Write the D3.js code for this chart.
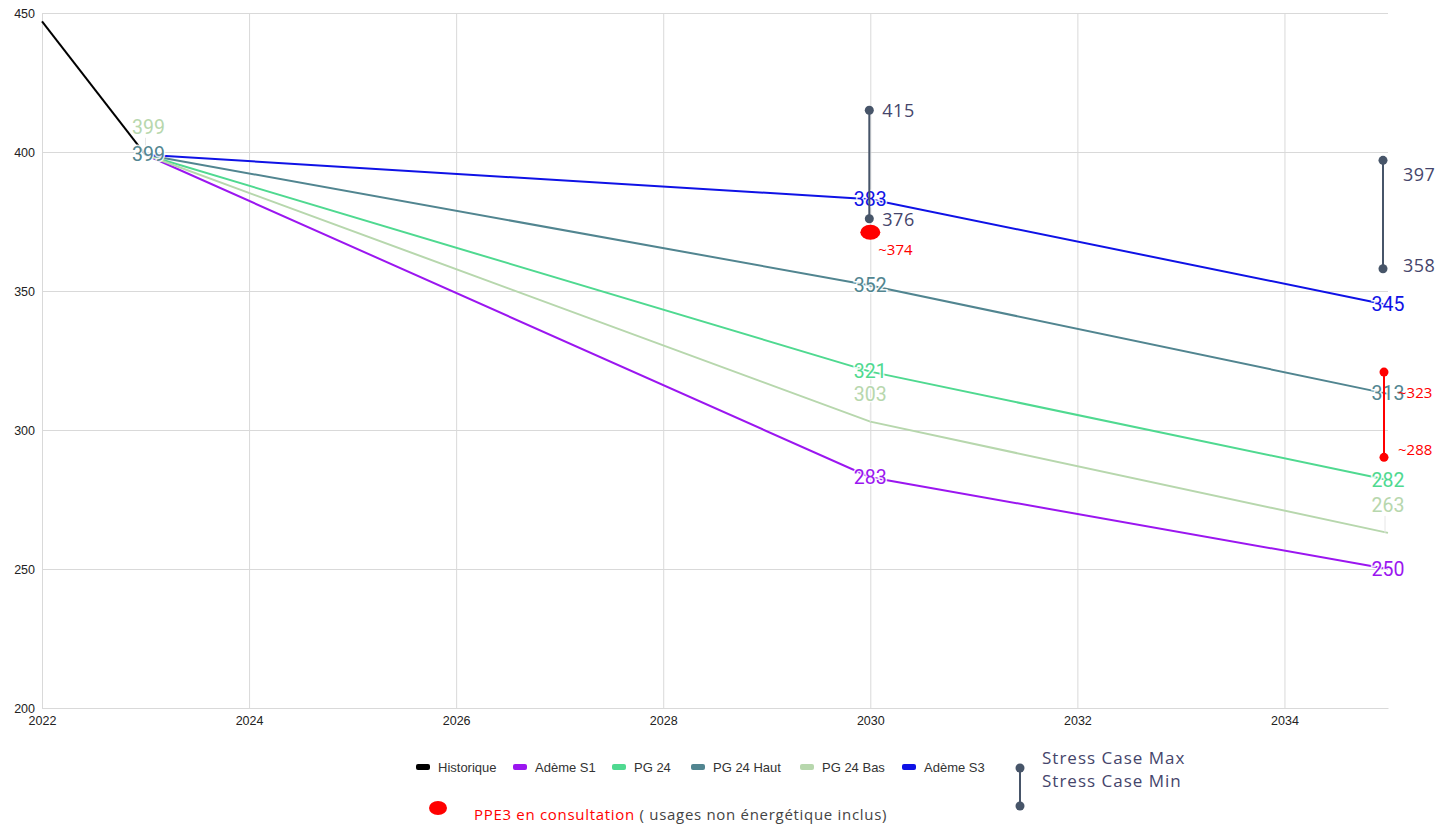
<!DOCTYPE html>
<html>
<head>
<meta charset="utf-8">
<script src="https://cdn.jsdelivr.net/npm/d3@7"></script>
<style>
  body { margin: 0; background: #fff; }
  svg { display: block; }
</style>
</head>
<body>
<div id="wrapper"></div>
<script>
// ---------------------------------------------------
// DATA
// ---------------------------------------------------
const years = [2022, 2023, 2030, 2035]
const seriesNames = ['Historique', 'Adème S1', 'PG 24', 'PG 24 Haut', 'PG 24 Bas', 'Adème S3']
const seriesColors = ['#000000', '#9b16f0', '#4fd990', '#518590', '#b7d7ad', '#0f12e6']
// null = no value for that year
const historique = [447, 399, null, null]
const ademeS1 = [null, 399, 283, 250]
const pg24 = [null, 399, 321, 282]
const pg24Haut = [null, 399, 352, 313]
const pg24Bas = [null, 399, 303, 263]
const ademeS3 = [null, 399, 383, 345]
const seriesValues = [historique, ademeS1, pg24, pg24Haut, pg24Bas, ademeS3]
// which years get a data label, per series
const labelYears = [[], [2030, 2035], [2030, 2035], [2023, 2030, 2035], [2023, 2030, 2035], [2030, 2035]]

const stressYears = [2030, 2035]
const stressMax = [415, 397]
const stressMin = [376, 358]

const ppeYears = [2030]
const ppeValues = [374]
const ppeRangeYears = [2035]
const ppeRangeMax = [323]
const ppeRangeMin = [288]

const xTicks = [2022, 2024, 2026, 2028, 2030, 2032, 2034]
const yTicks = [200, 250, 300, 350, 400, 450]

// ---------------------------------------------------
// DIMENSIONS
// ---------------------------------------------------
const dimensions = {
  width: 1435,
  height: 825,
  margin: { top: 13, right: 47, bottom: 117, left: 42 },
}
dimensions.boundedWidth = dimensions.width - dimensions.margin.left - dimensions.margin.right
dimensions.boundedHeight = dimensions.height - dimensions.margin.top - dimensions.margin.bottom

const svg = d3
  .select('#wrapper')
  .append('svg')
  .attr('width', dimensions.width)
  .attr('height', dimensions.height)

const bounds = svg
  .append('g')
  .attr('transform', `translate(${dimensions.margin.left},${dimensions.margin.top})`)

// ---------------------------------------------------
// SCALES
// ---------------------------------------------------
const xScale = d3.scaleLinear().domain([2022, 2035]).range([0, dimensions.boundedWidth])
const yScale = d3.scaleLinear().domain([200, 450]).range([dimensions.boundedHeight, 0])

// ---------------------------------------------------
// GRID + AXES
// ---------------------------------------------------
bounds
  .append('g')
  .attr('class', 'grid-y')
  .call(d3.axisLeft(yScale).tickValues(yTicks).tickSize(-dimensions.boundedWidth).tickFormat(''))
  .call((g) => g.select('.domain').remove())
  .selectAll('line')
  .attr('stroke', '#d9d9d9')

bounds
  .append('g')
  .attr('class', 'grid-x')
  .attr('transform', `translate(0,${dimensions.boundedHeight})`)
  .call(d3.axisBottom(xScale).tickValues(xTicks).tickSize(-dimensions.boundedHeight).tickFormat(''))
  .call((g) => g.select('.domain').remove())
  .selectAll('line')
  .attr('stroke', '#d9d9d9')

const yAxis = bounds
  .append('g')
  .call(d3.axisLeft(yScale).tickValues(yTicks).tickSize(0).tickPadding(7))
yAxis.select('.domain').attr('stroke', '#d9d9d9')
yAxis.selectAll('text').attr('font-family', 'Liberation Sans, Arial').attr('font-size', 12.5).attr('fill', '#222')

const xAxis = bounds
  .append('g')
  .attr('transform', `translate(0,${dimensions.boundedHeight})`)
  .call(d3.axisBottom(xScale).tickValues(xTicks).tickFormat(d3.format('d')).tickSize(0).tickPadding(8))
xAxis.select('.domain').attr('stroke', '#d9d9d9')
xAxis.selectAll('text').attr('font-family', 'Liberation Sans, Arial').attr('font-size', 12.5).attr('fill', '#222')

// ---------------------------------------------------
// LINES
// ---------------------------------------------------
const lineGenerator = d3
  .line()
  .defined((d) => d.value != null)
  .x((d) => xScale(d.year))
  .y((d) => yScale(d.value))

const seriesData = seriesNames.map((name, i) => ({
  name,
  color: seriesColors[i],
  points: years.map((year, j) => ({ year, value: seriesValues[i][j] })),
}))

bounds
  .append('g')
  .attr('class', 'lines')
  .selectAll('path')
  .data(seriesData)
  .join('path')
  .attr('fill', 'none')
  .attr('stroke', (d) => d.color)
  .attr('stroke-width', 2)
  .attr('d', (d) => lineGenerator(d.points))

// ---------------------------------------------------
// DATA LABELS
// ---------------------------------------------------
const labelData = []
seriesData.forEach((s, i) => {
  s.points.forEach((p) => {
    if (p.value != null && labelYears[i].includes(p.year)) {
      labelData.push({ ...p, color: s.color, above: s.name === 'PG 24 Bas' })
    }
  })
})

const labels = bounds.append('g').attr('class', 'labels')

// PG 24 Bas labels sit above the point with a faint leader
labels
  .selectAll('line')
  .data(labelData.filter((d) => d.above))
  .join('line')
  .attr('x1', (d) => Math.min(xScale(d.year), dimensions.boundedWidth - 3))
  .attr('x2', (d) => Math.min(xScale(d.year), dimensions.boundedWidth - 3))
  .attr('y1', (d) => yScale(d.value) - 17)
  .attr('y2', (d) => yScale(d.value))
  .attr('stroke', '#e6e6e6')
  .attr('stroke-width', 1)

labels
  .selectAll('text')
  .data(labelData)
  .join('text')
  .attr('x', (d) => xScale(d.year) + (d.year === 2023 ? 3 : 0))
  .attr('y', (d) => yScale(d.value) - (d.above ? 27 : 0))
  .attr('text-anchor', 'middle')
  .attr('dominant-baseline', 'central')
  .attr('font-family', 'Roboto, Arial')
  .attr('font-size', 19.5)
  .attr('fill', (d) => d.color)
  .attr('stroke', 'rgba(255,255,255,0.85)')
  .attr('stroke-width', 3)
  .attr('paint-order', 'stroke')
  .text((d) => d.value)

// ---------------------------------------------------
// STRESS CASES
// ---------------------------------------------------
const stressColor = '#475569'
const stressTextColor = '#45456b'
const stressData = stressYears.map((year, i) => ({ year, max: stressMax[i], min: stressMin[i] }))
const stressDx = (year) => (year === 2035 ? -5 : -1)
const stress = bounds.append('g').attr('class', 'stress')

stress
  .selectAll('line')
  .data(stressData)
  .join('line')
  .attr('x1', (d) => xScale(d.year) + stressDx(d.year))
  .attr('x2', (d) => xScale(d.year) + stressDx(d.year))
  .attr('y1', (d) => yScale(d.max))
  .attr('y2', (d) => yScale(d.min))
  .attr('stroke', stressColor)
  .attr('stroke-width', 2)

const stressPoints = stressData.flatMap((d) => [
  { year: d.year, value: d.max, kind: 'max' },
  { year: d.year, value: d.min, kind: 'min' },
])

stress
  .selectAll('circle')
  .data(stressPoints)
  .join('circle')
  .attr('cx', (d) => xScale(d.year) + stressDx(d.year))
  .attr('cy', (d) => yScale(d.value))
  .attr('r', 4.5)
  .attr('fill', stressColor)

stress
  .selectAll('text')
  .data(stressPoints)
  .join('text')
  .attr('x', (d) => xScale(d.year) + (d.year === 2035 ? 15 : 12))
  .attr('y', (d) => yScale(d.value) + (d.year === 2035 ? (d.kind === 'max' ? 14 : -4) : 0))
  .attr('dominant-baseline', 'central')
  .attr('font-family', 'Open Sans, Lato, sans-serif')
  .attr('font-size', 18)
  .attr('letter-spacing', 0.5)
  .attr('fill', stressTextColor)
  .text((d) => d.value)

// ---------------------------------------------------
// PPE3
// ---------------------------------------------------
const ppeColor = '#ff0000'
const ppe = bounds.append('g').attr('class', 'ppe')

ppe
  .selectAll('ellipse')
  .data(ppeYears.map((year, i) => ({ year, value: ppeValues[i] })))
  .join('ellipse')
  .attr('cx', (d) => xScale(d.year))
  .attr('cy', (d) => yScale(d.value) + 8)
  .attr('rx', 10)
  .attr('ry', 7.5)
  .attr('fill', ppeColor)

ppe
  .selectAll('text.ppe-point')
  .data(ppeYears.map((year, i) => ({ year, value: ppeValues[i] })))
  .join('text')
  .attr('class', 'ppe-point')
  .attr('x', (d) => xScale(d.year) + 8)
  .attr('y', (d) => yScale(d.value) + 25)
  .attr('dominant-baseline', 'central')
  .attr('font-family', 'Open Sans, sans-serif')
  .attr('font-size', 15)
  .attr('fill', ppeColor)
  .text((d) => '~' + d.value)

const ppeRange = ppeRangeYears.map((year, i) => ({ year, max: ppeRangeMax[i], min: ppeRangeMin[i] }))

ppe
  .selectAll('line')
  .data(ppeRange)
  .join('line')
  .attr('x1', (d) => xScale(d.year) - 4)
  .attr('x2', (d) => xScale(d.year) - 4)
  .attr('y1', (d) => yScale(d.max) + 6)
  .attr('y2', (d) => yScale(d.min) - 6)
  .attr('stroke', ppeColor)
  .attr('stroke-width', 2)

const ppeRangePoints = ppeRange.flatMap((d) => [
  { year: d.year, value: d.max, kind: 'max' },
  { year: d.year, value: d.min, kind: 'min' },
])

ppe
  .selectAll('circle')
  .data(ppeRangePoints)
  .join('circle')
  .attr('cx', (d) => xScale(d.year) - 4)
  .attr('cy', (d) => yScale(d.value) + (d.kind === 'max' ? 6 : -6))
  .attr('r', 4.5)
  .attr('fill', ppeColor)

ppe
  .selectAll('text.ppe-range')
  .data(ppeRangePoints)
  .join('text')
  .attr('class', 'ppe-range')
  .attr('x', (d) => xScale(d.year) + 10)
  .attr('y', (d) => yScale(d.value) + (d.kind === 'max' ? 26 : -14))
  .attr('dominant-baseline', 'central')
  .attr('font-family', 'Open Sans, sans-serif')
  .attr('font-size', 15)
  .attr('fill', ppeColor)
  .text((d) => '~' + d.value)

// ---------------------------------------------------
// LEGENDS
// ---------------------------------------------------
const legendX = [416, 513, 612, 691, 800, 902]
const legend = svg.append('g').attr('class', 'legend').attr('transform', 'translate(0,767)')

const legendItems = legend
  .selectAll('g')
  .data(seriesData)
  .join('g')
  .attr('transform', (d, i) => `translate(${legendX[i]},0)`)

legendItems
  .append('rect')
  .attr('x', 0)
  .attr('y', -3)
  .attr('width', 14)
  .attr('height', 6)
  .attr('rx', 2)
  .attr('fill', (d) => d.color)

legendItems
  .append('text')
  .attr('x', 22)
  .attr('dominant-baseline', 'central')
  .attr('font-family', 'Liberation Sans, Arial')
  .attr('font-size', 13)
  .attr('fill', '#333')
  .text((d) => d.name)

// stress legend
const stressLegend = svg.append('g').attr('transform', 'translate(1020,0)')
stressLegend
  .append('line')
  .attr('y1', 768)
  .attr('y2', 806)
  .attr('stroke', stressColor)
  .attr('stroke-width', 2)
stressLegend
  .selectAll('circle')
  .data([768, 806])
  .join('circle')
  .attr('cy', (d) => d)
  .attr('r', 4.5)
  .attr('fill', stressColor)
stressLegend
  .selectAll('text')
  .data(['Stress Case Max', 'Stress Case Min'])
  .join('text')
  .attr('x', 22)
  .attr('y', (d, i) => 757 + i * 23)
  .attr('dominant-baseline', 'central')
  .attr('font-family', 'Open Sans, Lato, sans-serif')
  .attr('font-size', 17)
  .attr('letter-spacing', 1)
  .attr('fill', stressTextColor)
  .text((d) => d)

// PPE3 legend
svg
  .append('ellipse')
  .attr('cx', 438)
  .attr('cy', 808)
  .attr('rx', 9)
  .attr('ry', 7)
  .attr('fill', ppeColor)

const ppeLegendText = svg
  .append('text')
  .attr('x', 474)
  .attr('y', 814)
  .attr('dominant-baseline', 'central')
  .attr('font-family', 'Open Sans, Lato, sans-serif')
  .attr('font-size', 15)
  .attr('letter-spacing', 0.7)
ppeLegendText.append('tspan').attr('fill', ppeColor).text('PPE3 en consultation')
ppeLegendText.append('tspan').attr('fill', '#444').text(' ( usages non énergétique inclus)')
</script>
</body>
</html>
